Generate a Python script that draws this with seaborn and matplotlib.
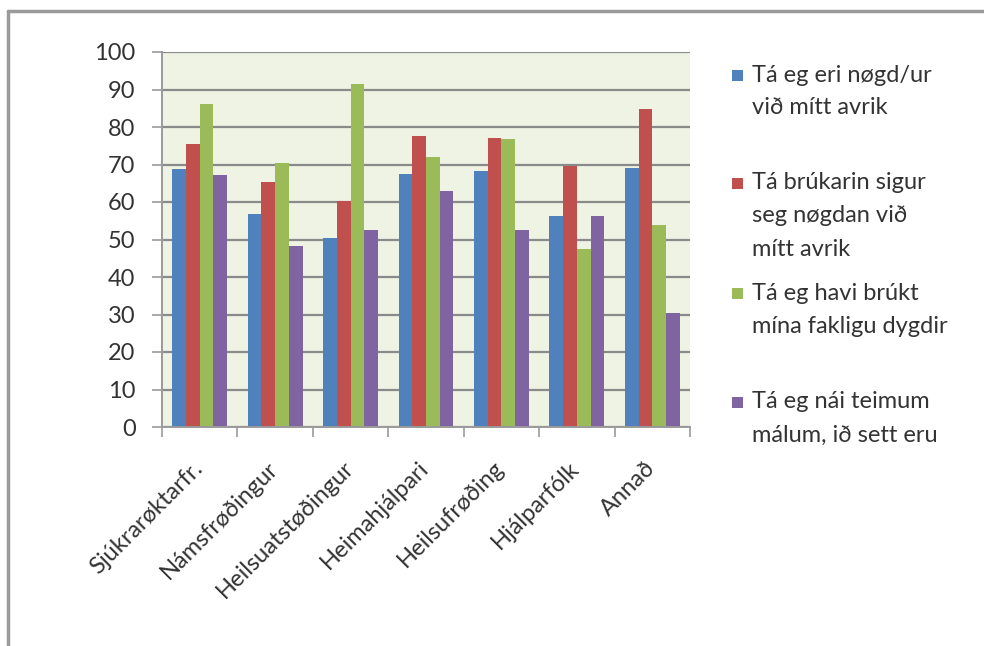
import matplotlib
matplotlib.use("Agg")
import matplotlib.pyplot as plt
import matplotlib.transforms as mtransforms
from matplotlib.lines import Line2D
from matplotlib.patches import Rectangle
import numpy as np
import pandas as pd
import seaborn as sns

# --- data -------------------------------------------------------------
categories = ["Sjúkrarøktarfr.", "Námsfrøðingur", "Heilsuatstøðingur",
              "Heimahjálpari", "Heilsufrøðing", "Hjálparfólk", "Annað"]
series_names = [
    "Tá eg eri nøgd/ur\nvið mítt avrik",
    "Tá brúkarin sigur\nseg nøgdan við\nmítt avrik",
    "Tá eg havi brúkt\nmína fakligu dygdir",
    "Tá eg nái teimum\nmálum, ið sett eru",
]
nogd = [68.9, 56.9, 50.4, 67.6, 68.4, 56.4, 69.1]
brukarin = [75.5, 65.4, 60.3, 77.7, 77.1, 69.7, 84.7]
dygdir = [86.2, 70.3, 91.5, 72.1, 76.8, 47.5, 53.9]
malum = [67.1, 48.4, 52.6, 62.9, 52.6, 56.4, 30.5]
series_values = [nogd, brukarin, dygdir, malum]
y_ticks = list(range(0, 101, 10))

colors = ["#4F81BD", "#C0504D", "#9BBB59", "#8064A2"]

df = pd.DataFrame(
    [(c, s, v) for s, vals in zip(series_names, series_values)
     for c, v in zip(categories, vals)],
    columns=["category", "series", "value"],
)

# --- figure -----------------------------------------------------------
sns.set_theme(style="white")
plt.rcParams["font.family"] = ["Lato", "DejaVu Sans"]
text_color = "#333333"

W, H = 984, 646
fig = plt.figure(figsize=(W / 100, H / 100), dpi=100)
fig.patch.set_facecolor("white")

ax = fig.add_axes([162 / W, 1 - 427 / H, 528 / W, 375 / H])
ax.set_facecolor("#EEF3E3")

sns.barplot(data=df, x="category", y="value", hue="series",
            order=categories, hue_order=series_names,
            palette=colors, width=0.727, gap=0, saturation=1,
            edgecolor="none", linewidth=0, errorbar=None, legend=False, ax=ax)

ax.set_xlim(-0.5, len(categories) - 0.5)
ax.set_ylim(0, 100)
ax.set_yticks(y_ticks)
ax.set_yticklabels([str(t) for t in y_ticks])
ax.yaxis.grid(True, color="#8a8a8a", linewidth=1.6)
ax.set_axisbelow(True)
ax.set_xlabel("")
ax.set_ylabel("")

for side in ["top", "right"]:
    ax.spines[side].set_visible(False)
for side in ["left", "bottom"]:
    ax.spines[side].set_color("#9a9a9a")
    ax.spines[side].set_linewidth(1.4)

# y ticks point outward from the axis
ax.tick_params(axis="y", direction="out", length=7, width=1.2,
               color="#9a9a9a", labelsize=17, labelcolor=text_color, pad=12,
               left=True)

# category boundary ticks on the x axis, labels at category centers
ax.set_xticks(np.arange(-0.5, len(categories), 1.0), minor=True)
ax.tick_params(axis="x", which="minor", direction="out", length=7,
               width=1.2, color="#9a9a9a", bottom=True)
ax.set_xticks(range(len(categories)))
ax.set_xticklabels(categories, rotation=45, ha="right",
                   rotation_mode="anchor", fontsize=17, color=text_color)
ax.tick_params(axis="x", which="major", length=0, pad=22)
shift = mtransforms.ScaledTranslation(-8 / 100, 0, fig.dpi_scale_trans)
for lbl in ax.get_xticklabels():
    lbl.set_transform(lbl.get_transform() + shift)

# --- legend -----------------------------------------------------------
entry_tops = [75, 183, 293, 402]
line_step = 33
for name, col, y0 in zip(series_names, colors, entry_tops):
    fig.add_artist(Rectangle((732 / W, 1 - (y0 + 6) / H), 11 / W, 11 / H,
                             transform=fig.transFigure, facecolor=col,
                             edgecolor="none"))
    for i, line in enumerate(name.split("\n")):
        fig.text(752 / W, 1 - (y0 + i * line_step) / H, line,
                 fontsize=17, color=text_color, va="center", ha="left")

# --- outer frame ------------------------------------------------------
frame_kw = dict(transform=fig.transFigure, color="#9a9a9a", linewidth=2.5)
fig.add_artist(Line2D([8 / W, 1], [1 - 11 / H, 1 - 11 / H], **frame_kw))
fig.add_artist(Line2D([8 / W, 8 / W], [0, 1 - 11 / H], **frame_kw))

fig.savefig("out.png", dpi=100)
